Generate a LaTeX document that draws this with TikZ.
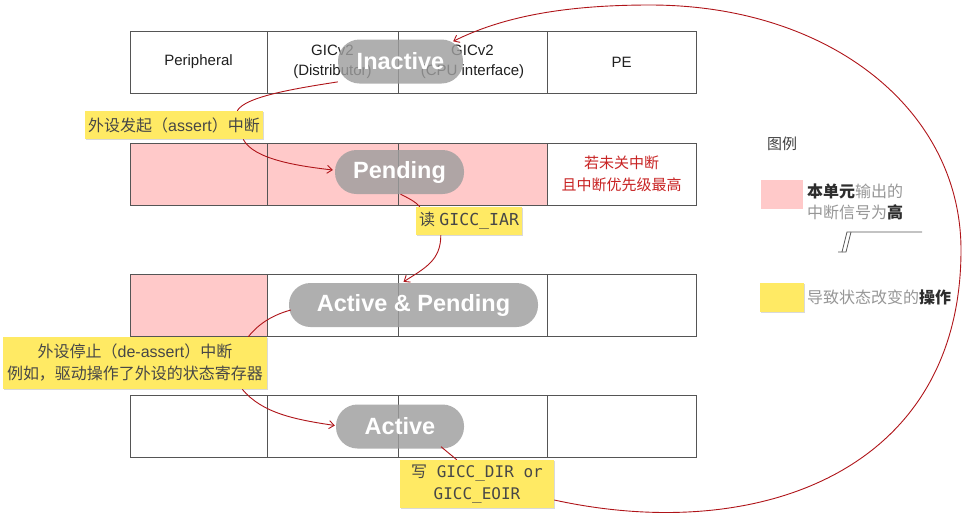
\documentclass[tikz,border=0pt]{standalone}
\usepackage{fontspec}
\setmainfont{Liberation Sans}
\newfontfamily\cjk{Noto Sans CJK SC}
\newfontfamily\mono{DejaVu Sans Mono}
\usetikzlibrary{arrows.meta,shadows,calc}
\definecolor{pinkc}{RGB}{255,201,201}
\definecolor{yellowc}{RGB}{255,234,100}
\definecolor{redline}{RGB}{175,20,25}
\definecolor{redtext}{RGB}{200,35,35}
\definecolor{pillc}{RGB}{158,158,158}
\definecolor{borderc}{RGB}{85,85,85}
\definecolor{leggray}{RGB}{150,150,150}
\definecolor{legdark}{RGB}{45,45,45}
\begin{document}
\begin{tikzpicture}[x=1pt,y=-1pt,
  rowbox/.style={draw=borderc, fill=white, line width=0.8pt, minimum width=566pt, minimum height=62pt, inner sep=0pt,
    drop shadow={shadow xshift=1.3pt, shadow yshift=-1.3pt, opacity=0.35}},
  cell/.style={draw=borderc, line width=0.8pt, minimum height=62pt, inner sep=0pt, align=center,
    font=\fontsize{15}{20}\selectfont, text=black!88},
  pill/.style={fill=pillc, fill opacity=0.82, text opacity=1, text=white, rounded corners=21.5pt,
    minimum height=44pt, inner sep=0pt, font=\fontsize{23.5}{26}\selectfont\bfseries},
  ylabel/.style={fill=yellowc, inner sep=0pt, align=center, text=black!72,
    font=\fontsize{16}{22}\selectfont,
    drop shadow={shadow xshift=1pt, shadow yshift=-1pt, opacity=0.3}},
  conn/.style={draw=redline, line width=0.9pt},
  arr/.style={conn, -{Straight Barb[length=5pt,width=8pt]}},
  legtext/.style={anchor=west, align=left, inner sep=0pt, text=leggray, font=\fontsize{16}{21}\selectfont\cjk}
]
\useasboundingbox (0,0) rectangle (962,515);

% ---------- row 1 (Inactive) ----------
\node[rowbox] (row1) at (413,62) {};
\node[cell, minimum width=137pt] (r1c1) at (198.5,62) {Peripheral};
\node[cell, minimum width=131pt] (r1c2) at (332.5,62) {GICv2\\(Distributor)};
\node[cell, minimum width=149pt] (r1c3) at (472.5,62) {GICv2\\(CPU interface)};
\node[cell, minimum width=149pt] (r1c4) at (621.5,62) {PE};

% ---------- row 2 (Pending) ----------
\node[rowbox] (row2) at (413,174) {};
\node[cell, fill=pinkc, minimum width=137pt] (r2c1) at (198.5,174) {};
\node[cell, fill=pinkc, minimum width=131pt] (r2c2) at (332.5,174) {};
\node[cell, fill=pinkc, minimum width=149pt] (r2c3) at (472.5,174) {};
\node[cell, minimum width=149pt, text=redtext, font=\fontsize{15}{22}\selectfont\cjk] (r2c4) at (621.5,174) {若未关中断\\且中断优先级最高};

% ---------- row 3 (Active & Pending) ----------
\node[rowbox] (row3) at (413,305) {};
\node[cell, fill=pinkc, minimum width=137pt] (r3c1) at (198.5,305) {};
\node[cell, minimum width=131pt] (r3c2) at (332.5,305) {};
\node[cell, minimum width=149pt] (r3c3) at (472.5,305) {};
\node[cell, minimum width=149pt] (r3c4) at (621.5,305) {};

% ---------- row 4 (Active) ----------
\node[rowbox] (row4) at (413,426) {};
\node[cell, minimum width=137pt] (r4c1) at (198.5,426) {};
\node[cell, minimum width=131pt] (r4c2) at (332.5,426) {};
\node[cell, minimum width=149pt] (r4c3) at (472.5,426) {};
\node[cell, minimum width=149pt] (r4c4) at (621.5,426) {};

% ---------- state pills ----------
\node[pill, minimum width=125pt] (inact) at (400.5,61.5) {Inactive};
\node[pill, minimum width=129pt] (pend) at (399.5,172) {Pending};
\node[pill, minimum width=249pt] (ap) at (413.5,305) {Active \& Pending};
\node[pill, minimum width=128pt] (act) at (400,426.5) {Active};

% ---------- yellow labels (positions) ----------
\coordinate (l1c) at (174,125);
\coordinate (l2c) at (469,221);
\coordinate (l3c) at (135,363);
\coordinate (l4c) at (477,484);

% ---------- connectors (drawn before labels) ----------
\path (l1c) node[inner sep=0pt, minimum width=178pt, minimum height=28pt] (lbl1g) {};
\path (l2c) node[inner sep=0pt, minimum width=106pt, minimum height=28pt] (lbl2g) {};
\path (l3c) node[inner sep=0pt, minimum width=264pt, minimum height=52pt] (lbl3g) {};
\path (l4c) node[inner sep=0pt, minimum width=154pt, minimum height=48pt] (lbl4g) {};

\draw[conn] (inact.198) .. controls +(-45,7) and +(8,-14) .. ([shift={(-26,0)}]lbl1g.north east);
\draw[arr] ([shift={(-20,0)}]lbl1g.south east) .. controls +(10,20) and +(-35,-4) .. ([shift={(-2,-2)}]pend.west);

\draw[conn] ([shift={(1,0)}]pend.south) .. controls +(8,4) and +(-4,-5) .. ([shift={(4,0)}]lbl2g.north west);
\draw[arr] ([shift={(25,0)}]lbl2g.south west) .. controls +(0,25) and +(22,-14) .. ([shift={(-10,-1)}]ap.north);

\draw[conn] ([shift={(2,5)}]ap.west) .. controls +(-22,6) and +(8,-10) .. ([shift={(-19,0)}]lbl3g.north east);
\draw[arr] ([shift={(-25,0)}]lbl3g.south east) .. controls +(20,24) and +(-40,-6) .. ([shift={(-1,-1)}]act.west);

\draw[conn] ([shift={(41,-2)}]act.south) -- ([shift={(57,0)}]lbl4g.north west);
\coordinate (loopR) at (961,250);
\coordinate (loopT) at (650,5);
\draw[arr] ([shift={(0,16)}]lbl4g.east) .. controls (760,545) and (961,470) .. (loopR)
  .. controls (961,110) and (830,5) .. (loopT)
  .. controls (560,5) and (500,18) .. ([shift={(-10,2)}]inact.north east);

% ---------- yellow labels ----------
\node[ylabel, minimum width=178pt, minimum height=28pt] (lbl1) at (l1c) {{\cjk 外设发起（}assert{\cjk ）中断}};
\node[ylabel, minimum width=106pt, minimum height=28pt] (lbl2) at (l2c) {{\cjk 读} {\mono\fontsize{16.5}{22}\selectfont GICC\_IAR}};
\node[ylabel, minimum width=264pt, minimum height=52pt] (lbl3) at (l3c) {{\cjk 外设停止（}de-assert{\cjk ）中断}\\{\cjk 例如，驱动操作了外设的状态寄存器}};
\node[ylabel, minimum width=154pt, minimum height=48pt, font=\fontsize{16}{22}\selectfont\mono] (lbl4) at (l4c) {{\cjk 写} GICC\_DIR or\\GICC\_EOIR};

% ---------- legend ----------
\node[text=black!75, font=\fontsize{15}{18}\selectfont\cjk] (legtitle) at (782,144) {图例};
\node[fill=pinkc, minimum width=42pt, minimum height=29pt, inner sep=0pt] (legpink) at (782,194.5) {};
\node[legtext] (legpinktxt) at (807,201.5) {{\color{legdark}\bfseries 本单元}输出的\\中断信号为{\color{legdark}\bfseries 高}};
\coordinate (stepA) at (838,252);
\coordinate (stepB) at (922,232);
\draw[borderc, line width=0.8pt] (stepA) -- (842,252) -- (847,232) -- (stepB);
\draw[borderc, line width=0.8pt] (842,252) -- (846,252) -- (851,232);
\node[fill=yellowc, minimum width=44pt, minimum height=29pt, inner sep=0pt,
  drop shadow={shadow xshift=1pt, shadow yshift=-1pt, opacity=0.3}] (legyel) at (782,297.5) {};
\node[legtext] (legyeltxt) at (807,297) {导致状态改变的{\color{legdark}\bfseries 操作}};
\end{tikzpicture}
\end{document}
